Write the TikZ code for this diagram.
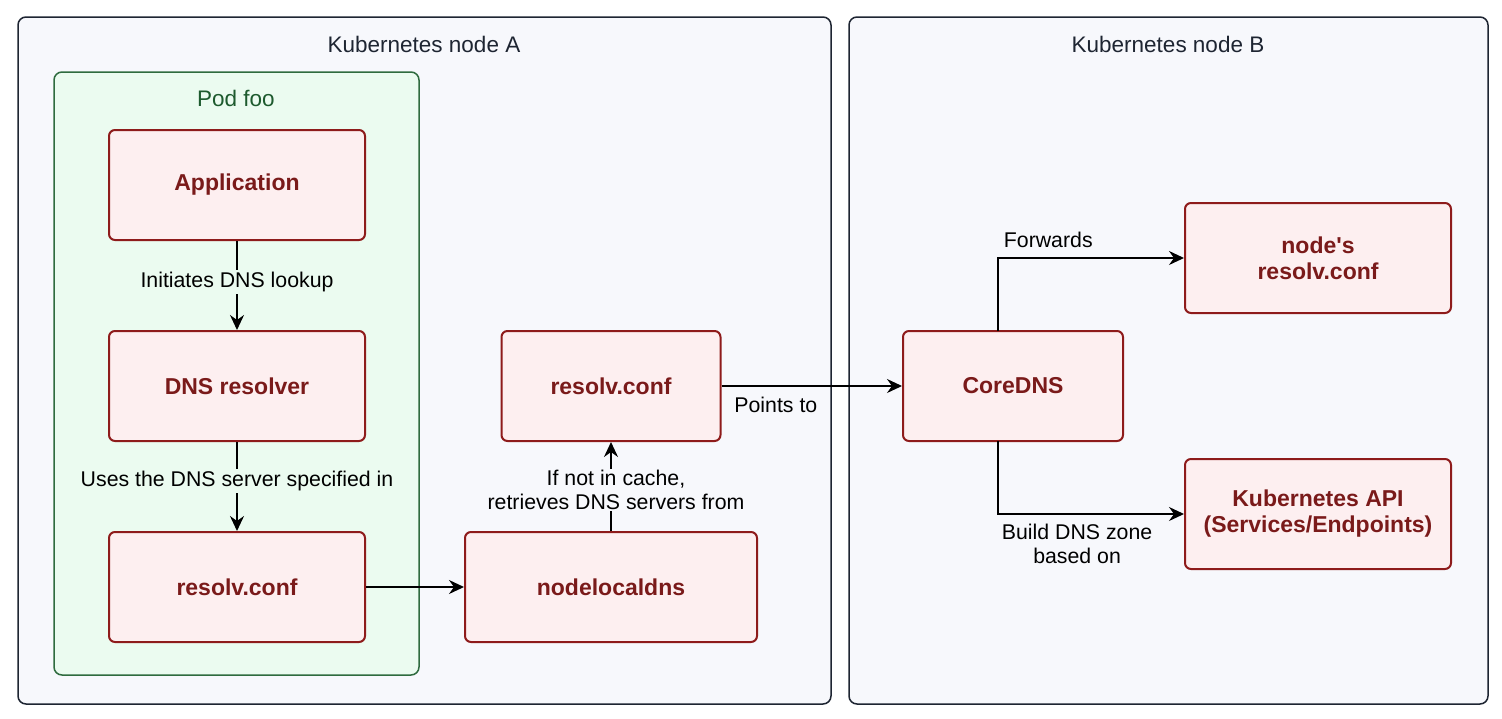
\documentclass[tikz,border=0pt]{standalone}
\usepackage{fontspec}
\setmainfont{Liberation Sans}[Ligatures=TeXOff]
\usetikzlibrary{arrows.meta}
\definecolor{outerfill}{HTML}{F7F8FC}
\definecolor{outerline}{HTML}{1E2532}
\definecolor{podfill}{HTML}{EBFBF0}
\definecolor{podline}{HTML}{2F6B3F}
\definecolor{podtext}{HTML}{1D5A2E}
\definecolor{boxfill}{HTML}{FDEFF0}
\definecolor{boxline}{HTML}{8E1B1B}
\definecolor{boxtext}{HTML}{7A1A1A}
\tikzset{
  outerbox/.style={draw=outerline, fill=outerfill, line width=1.5pt, rounded corners=8pt},
  podbox/.style={draw=podline, fill=podfill, line width=1.5pt, rounded corners=8pt},
  comp/.style={draw=boxline, fill=boxfill, line width=2pt, rounded corners=6pt,
    font=\fontsize{23}{26}\selectfont\bfseries, text=boxtext, align=center, inner sep=0pt},
  title/.style={font=\fontsize{22.5}{26}\selectfont, text=outerline},
  lbl/.style={font=\fontsize{21.3}{24}\selectfont, text=black, align=center, inner sep=2pt},
  conn/.style={line width=1.8pt, -{Stealth[length=15pt,width=14pt,inset=5pt]}},
}
\begin{document}
\begin{tikzpicture}[x=1pt,y=-1pt]
\useasboundingbox (0,0) rectangle (1502,718);
\fill[white] (0,0) rectangle (1502,718);
% outer containers
\draw[outerbox] (18,17) rectangle (831,704);
\draw[outerbox] (849,17) rectangle (1488,704);
\node[title] (tA) at (424,44) {Kubernetes node A};
\node[title] (tB) at (1168,44) {Kubernetes node B};
% pod
\draw[podbox] (54,72) rectangle (419,675);
\node[title, text=podtext] (tP) at (236,98) {Pod foo};
% components
\node[comp, minimum width=256pt, minimum height=110pt] (app) at (237,185) {Application};
\node[comp, minimum width=256pt, minimum height=110pt] (res) at (237,386) {DNS resolver};
\node[comp, minimum width=256pt, minimum height=110pt] (rcp) at (237,587) {resolv.conf};
\node[comp, minimum width=292pt, minimum height=110pt] (nld) at (611,587) {nodelocaldns};
\node[comp, minimum width=219pt, minimum height=110pt] (rcn) at (611,386) {resolv.conf};
\node[comp, minimum width=220pt, minimum height=110pt] (core) at (1013,386) {CoreDNS};
\node[comp, minimum width=266pt, minimum height=110pt] (nrc) at (1318,258) {node's\\resolv.conf};
\node[comp, minimum width=266pt, minimum height=110pt] (api) at (1318,514) {Kubernetes API\\(Services/Endpoints)};
% connectors
\draw[conn] (app) -- (res) node[pos=0.46, lbl, fill=podfill] {Initiates DNS lookup};
\draw[conn] (res) -- (rcp) node[pos=0.44, lbl, fill=podfill] {Uses the DNS server specified in};
\draw[conn] (rcp) -- (nld);
\draw[conn] (nld) -- (rcn) node[pos=0.46, lbl, fill=outerfill, inner sep=1pt, xshift=5pt] {If not in cache,\\retrieves DNS servers from};
\draw[conn] (rcn) -- (core) node[pos=0, anchor=west, lbl, xshift=10pt, yshift=-19pt] {Points to};
\coordinate (cTop) at (998,331);
\coordinate (cBot) at (998,441);
\draw[conn] (cTop) |- (nrc) node[pos=0.5, anchor=west, lbl, xshift=3pt, yshift=18pt] {Forwards};
\draw[conn] (cBot) |- (api) node[pos=0.5, anchor=north west, lbl, xshift=1pt, yshift=-7pt] {Build DNS zone\\based on};
\end{tikzpicture}
\end{document}
